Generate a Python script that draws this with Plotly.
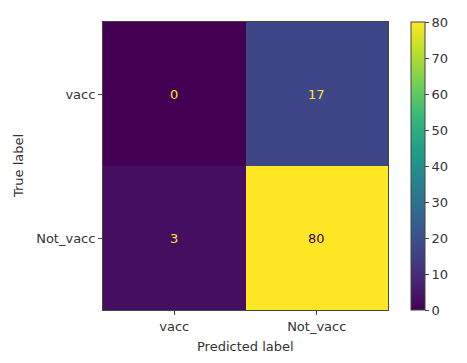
import plotly.graph_objects as go

labels = ["vacc", "Not_vacc"]
matrix = [[0, 17],
          [3, 80]]
cbar_ticks = [0, 10, 20, 30, 40, 50, 60, 70, 80]

FONT = "DejaVu Sans"
FS = 13
TXT = "#333"
zmin, zmax = 0, 80
thresh = (zmax + zmin) / 2.0

PW, PH = 285.0, 288.0  # plot area size in px

fig = go.Figure()
fig.add_trace(go.Heatmap(
    z=matrix, x=labels, y=labels,
    colorscale="Viridis", zmin=zmin, zmax=zmax,
    colorbar=dict(
        x=1 + (411 - 388) / PW, xanchor="left", xref="paper",
        y=0.5, yanchor="middle", len=1.0, lenmode="fraction",
        xpad=0, ypad=0,
        thickness=14, thicknessmode="pixels",
        outlinewidth=1, outlinecolor="#444",
        tickvals=cbar_ticks, ticks="outside", ticklen=4, tickcolor="#444",
        tickfont=dict(family=FONT, size=FS, color=TXT),
    ),
))

for i, row in enumerate(matrix):
    for j, v in enumerate(row):
        fig.add_annotation(
            x=labels[j], y=labels[i], text=str(v), showarrow=False,
            font=dict(family=FONT, size=FS,
                      color="#440154" if v >= thresh else "#fde725"),
        )

fig.add_annotation(x=0.5, xref="paper", y=-(346 - 310) / PH, yref="paper",
                   yanchor="middle", text="Predicted label", showarrow=False,
                   font=dict(family=FONT, size=FS, color=TXT))
fig.add_annotation(x=-(103 - 18) / PW, xref="paper", xanchor="center",
                   y=0.5, yref="paper", yanchor="middle",
                   text="True label", textangle=-90, showarrow=False,
                   font=dict(family=FONT, size=FS, color=TXT))

fig.update_layout(
    width=459, height=355,
    margin=dict(l=95, r=79, t=14, b=53, autoexpand=False),
    paper_bgcolor="white", plot_bgcolor="white",
    font=dict(family=FONT, size=FS, color=TXT),
    xaxis=dict(
        showline=True, linecolor="#444", linewidth=1, mirror=True,
        ticks="outside", ticklen=4, tickcolor="#444", showgrid=False, zeroline=False,
        tickfont=dict(family=FONT, size=FS, color=TXT), automargin=False,
    ),
    yaxis=dict(
        showline=True, linecolor="#444", linewidth=1, mirror=True,
        ticks="outside", ticklen=4, tickcolor="#444", showgrid=False, zeroline=False,
        autorange="reversed", automargin=False,
        tickfont=dict(family=FONT, size=FS, color=TXT),
    ),
)

fig.write_html("out.html")
